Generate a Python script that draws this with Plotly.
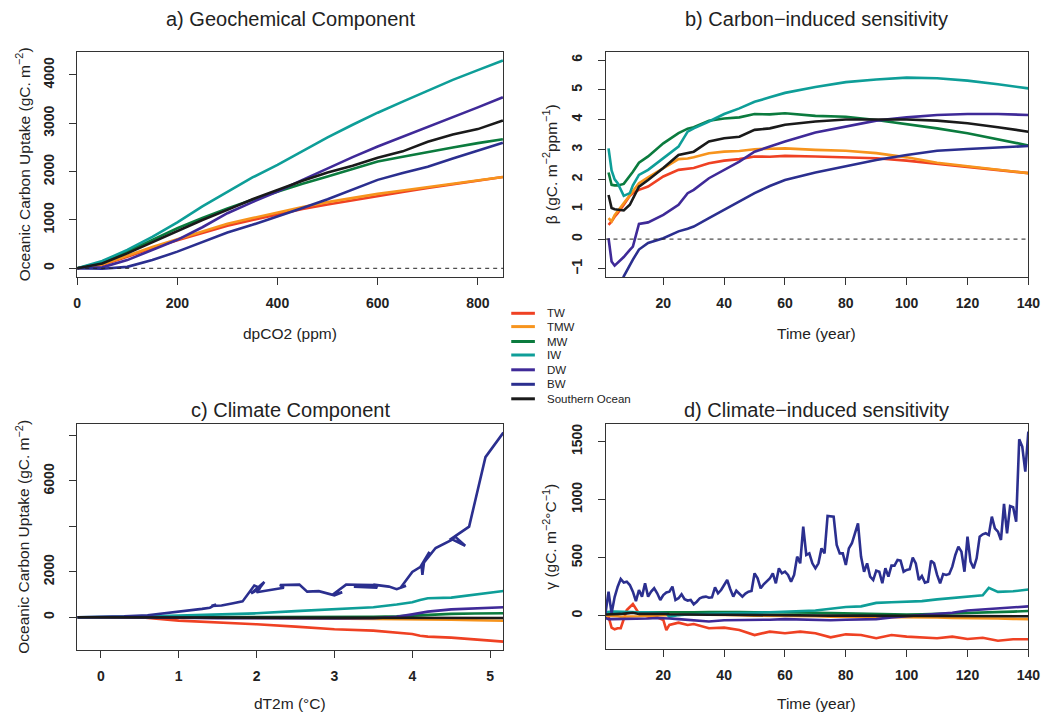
import plotly.graph_objects as go

# ---------------- data ----------------
NAMES = ["TW", "TMW", "MW", "IW", "DW", "BW", "Southern Ocean"]
COLORS = ["#EF4123", "#F7941D", "#0B7B3E", "#0E9E98", "#3F2A98", "#2B2F8F", "#1A1A1A"]

# a) Geochemical component vs dpCO2
A_X = [0, 50, 100, 150, 200, 250, 300, 350, 400, 450, 500, 550, 600, 650, 700, 750, 800, 850]
A_Y = {
    "TW":  [0, 70, 240, 420, 580, 730, 880, 1000, 1120, 1230, 1320, 1410, 1500, 1580, 1660, 1740, 1810, 1890],
    "TMW": [0, 80, 260, 440, 600, 760, 920, 1040, 1160, 1270, 1370, 1460, 1540, 1610, 1680, 1750, 1820, 1890],
    "MW":  [0, 120, 345, 590, 830, 1040, 1240, 1420, 1590, 1750, 1900, 2060, 2210, 2310, 2410, 2500, 2590, 2670],
    "IW":  [0, 150, 380, 650, 950, 1280, 1580, 1880, 2140, 2430, 2710, 2970, 3220, 3450, 3680, 3900, 4100, 4300],
    "DW":  [0, 20, 170, 380, 590, 850, 1140, 1370, 1590, 1830, 2070, 2300, 2520, 2720, 2920, 3130, 3330, 3540],
    "BW":  [0, -10, 30, 170, 345, 540, 740, 900, 1070, 1250, 1430, 1630, 1830, 1970, 2100, 2270, 2430, 2600],
    "Southern Ocean": [0, 100, 310, 540, 780, 1000, 1210, 1430, 1620, 1810, 1980, 2120, 2290, 2420, 2620, 2770, 2880, 3060],
}

# b) Carbon-induced sensitivity vs time
B_X = [2, 3, 4, 5, 7, 9, 10, 12, 15, 20, 25, 28, 30, 35, 40, 45, 50, 55, 60, 70, 80, 90, 100, 110, 120, 130, 140]
B_Y = {
    "TW":  [0.48, 0.59, 0.75, 0.87, 1.15, 1.45, 1.54, 1.65, 1.76, 2.1, 2.32, 2.36, 2.38, 2.54, 2.63, 2.68, 2.77, 2.76, 2.79, 2.77, 2.74, 2.71, 2.63, 2.52, 2.41, 2.32, 2.21],
    "TMW": [0.7, 0.59, 0.8, 0.93, 1.2, 1.45, 1.6, 1.87, 2.07, 2.38, 2.68, 2.7, 2.74, 2.88, 2.93, 2.95, 3.01, 3.03, 3.04, 2.99, 2.96, 2.88, 2.74, 2.56, 2.45, 2.32, 2.21],
    "MW":  [2.23, 1.82, 1.8, 1.8, 1.85, 2.1, 2.26, 2.56, 2.77, 3.21, 3.55, 3.7, 3.75, 3.97, 4.04, 4.08, 4.19, 4.18, 4.22, 4.13, 4.1, 3.99, 3.86, 3.71, 3.55, 3.35, 3.14],
    "IW":  [3.04, 2.3, 2.0, 1.87, 1.45, 1.54, 1.8, 2.15, 2.32, 2.71, 3.1, 3.6, 3.71, 3.94, 4.19, 4.38, 4.6, 4.75, 4.9, 5.1, 5.26, 5.35, 5.41, 5.39, 5.31, 5.19, 5.05],
    "DW":  [0.03, -0.75, -0.89, -0.8, -0.6, -0.36, -0.25, 0.51, 0.56, 0.81, 1.15, 1.54, 1.65, 2.04, 2.32, 2.6, 2.93, 3.1, 3.27, 3.57, 3.77, 3.97, 4.08, 4.16, 4.19, 4.19, 4.16],
    "BW":  [-3.0, -2.6, -2.2, -1.8, -1.25, -0.85, -0.69, -0.35, -0.13, 0.03, 0.26, 0.35, 0.42, 0.7, 0.98, 1.26, 1.54, 1.78, 1.98, 2.23, 2.45, 2.65, 2.82, 2.96, 3.02, 3.07, 3.12],
    "Southern Ocean": [1.48, 1.04, 1.0, 0.98, 0.96, 1.15, 1.35, 1.76, 1.98, 2.38, 2.82, 2.9, 2.93, 3.27, 3.38, 3.43, 3.66, 3.71, 3.83, 3.94, 4.01, 4.01, 4.01, 3.97, 3.88, 3.75, 3.6],
}

# c) Climate component vs dT2m
C_X = [-0.3, 0.0, 0.5, 1.0, 1.5, 2.0, 2.5, 3.0, 3.5, 3.8, 4.0, 4.1, 4.2, 4.5, 4.8, 5.0, 5.17]
C_Y = {
    "TW":  [0, 0, 0, -147, -220, -308, -410, -528, -587, -690, -733, -810, -850, -895, -980, -1027, -1070],
    "TMW": [0, 0, 0, -10, -20, -30, -40, -50, -60, -70, -80, -90, -100, -110, -130, -140, -150],
    "MW":  [0, 0, 0, 0, -10, -10, -10, 0, 20, 40, 70, 100, 120, 150, 170, 180, 180],
    "IW":  [0, 0, 30, 73, 120, 176, 270, 367, 440, 560, 660, 760, 836, 865, 1010, 1100, 1160],
    "DW":  [0, 0, 0, -20, -40, -50, -55, -55, -40, 20, 130, 190, 250, 350, 390, 420, 440],
    "Southern Ocean": [0, 0, 0, -10, -10, -20, -20, -20, -20, -20, -20, -20, -20, -30, -30, -30, -30],
}
# BW follows its own (looping) trajectory in time
C_BW_X = [-0.3, 0.0, 0.3, 0.6, 0.9, 1.1, 1.3, 1.4, 1.48, 1.42, 1.55, 1.7, 1.82, 1.97, 2.05, 1.93, 2.1, 2.0,
          2.2, 2.35, 2.3, 2.5, 2.55, 2.65, 2.8, 3.0, 3.1, 2.98, 3.15, 3.3, 3.5, 3.25, 3.55, 3.5, 3.7, 3.8,
          3.92, 3.85, 4.0, 4.12, 4.13, 4.15, 4.22, 4.1, 4.3, 4.5, 4.55, 4.68, 4.5, 4.73, 4.94, 5.17]
C_BW_Y = [0, 10, 40, 90, 200, 290, 370, 420, 560, 500, 520, 620, 700, 1400, 1280, 1050, 1560, 1100,
          1230, 1300, 1420, 1450, 1440, 1130, 1150, 970, 1100, 1000, 1440, 1430, 1420, 1350, 1300, 1440, 1350, 1240,
          1390, 1300, 2000, 2250, 1870, 2400, 2880, 2200, 3050, 3400, 3550, 3150, 3450, 3990, 7050, 8130]

# d) Climate-induced sensitivity vs time
D_BW_X = list(range(1, 141))
D_BW_Y = [20, 207, 20, 160, 250, 316, 285, 293, 264, 207, 126, 221, 164, 279, 164, 207, 236, 193, 135, 178,
          200, 207, 250, 135, 150, 184, 141, 130, 135, 98, 120, 150, 160, 164, 155, 158, 244, 193, 221, 260,
          307, 230, 164, 215, 190, 164, 190, 207, 213, 365, 322, 236, 270, 293, 320, 365, 279, 408, 365, 379,
          351, 293, 351, 509, 451, 767, 523, 537, 451, 408, 451, 580, 537, 859, 853, 853, 609, 537, 537, 437,
          580, 624, 710, 796, 509, 379, 451, 336, 307, 388, 379, 279, 408, 336, 431, 431, 480, 474, 379, 394,
          400, 500, 451, 307, 342, 285, 293, 474, 451, 351, 279, 359, 351, 359, 422, 523, 595, 552, 379, 681,
          466, 408, 494, 681, 701, 710, 695, 853, 753, 724, 652, 963, 710, 945, 934, 810, 1520, 1457, 1241, 1586]
D_X = [1, 2, 3, 4, 5, 6, 8, 10, 12, 15, 18, 20, 21, 22, 25, 28, 30, 35, 40, 45, 50, 55, 60, 65, 70, 75,
       80, 85, 90, 95, 100, 105, 110, 115, 120, 125, 127, 130, 135, 140]
D_Y = {
    "TW":  [6, -9, -103, -118, -109, -108, 49, 100, 20, -9, -15, -37, -124, -80, -60, -80, -72, -109, -103, -124,
            -167, -138, -152, -138, -152, -187, -161, -167, -195, -167, -181, -187, -195, -181, -201, -190, -200, -216, -204, -204],
    "TMW": [0, 0, -5, -5, -5, -10, -10, -10, -5, 0, 5, 5, 5, 5, 10, 10, 10, 10, 10, 5,
            0, 0, -5, -5, -5, -10, -10, -10, -10, -15, -15, -15, -15, -20, -20, -25, -25, -25, -28, -30],
    "MW":  [30, 30, 30, 30, 30, 30, 28, 28, 28, 25, 25, 25, 25, 25, 28, 30, 30, 32, 35, 32,
            30, 30, 30, 28, 25, 22, 20, 15, 10, 10, 10, 12, 15, 18, 20, 25, 28, 30, 35, 40],
    "IW":  [30, 35, 35, 35, 35, 32, 30, 30, 30, 28, 25, 25, 20, -10, 5, 10, 10, 15, 20, 20,
            25, 30, 35, 35, 45, 60, 75, 80, 110, 115, 120, 125, 140, 150, 165, 175, 240, 205, 210, 225],
    "DW":  [-20, -30, -30, -30, -30, -30, -30, -25, -25, -25, -20, -20, -20, -25, -30, -35, -40, -50, -40, -40,
            -40, -35, -30, -35, -40, -40, -35, -35, -30, -15, -5, 5, 15, 25, 45, 55, 60, 65, 75, 80],
    "Southern Ocean": [10, 10, 10, 10, 10, 15, 20, 25, 15, 15, 18, 20, 15, 12, 10, 10, 10, 8, 8, 6,
                       5, 5, 5, 3, 2, 0, 0, 0, 0, 0, 0, -2, -2, -3, -3, -4, -4, -5, -5, -5],
}

# ---------------- figure ----------------
W, H = 1063, 713
FONT = "Liberation Sans, Arial, Helvetica, sans-serif"
AXC = "#333333"
LW = 2.6

def px(x):
    return x / W

def py(y):
    return 1 - y / H

panels = {
    # name: (xaxis, yaxis, left, right, top, bottom)
    "a": ("x", "y", 74.3, 507.0, 51.7, 277.3),
    "b": ("x2", "y2", 610.7, 1040.0, 52.3, 277.3),
    "c": ("x3", "y3", 74.3, 507.0, 424.0, 650.0),
    "d": ("x4", "y4", 610.7, 1040.0, 424.0, 649.3),
}

fig = go.Figure()
cmap = dict(zip(NAMES, COLORS))

def add(x, y, name, xa, ya):
    fig.add_trace(go.Scatter(x=x, y=y, mode="lines", name=name, showlegend=False,
                             line=dict(color=cmap[name], width=LW), xaxis=xa, yaxis=ya,
                             hoverinfo="skip"))

for n in NAMES:
    add(A_X, A_Y[n], n, "x", "y")
for n in NAMES:
    add(B_X, B_Y[n], n, "x2", "y2")
for n in NAMES:
    if n == "BW":
        add(C_BW_X, C_BW_Y, n, "x3", "y3")
    else:
        add(C_X, C_Y[n], n, "x3", "y3")
for n in NAMES:
    if n == "BW":
        add(D_BW_X, D_BW_Y, n, "x4", "y4")
    else:
        add(D_X, D_Y[n], n, "x4", "y4")

tickfont = dict(family=FONT, size=14, color="#222222", weight="bold")

def axis_common():
    return dict(showline=True, linecolor=AXC, linewidth=1, mirror=True, ticks="outside",
                ticklen=7, tickcolor=AXC, tickwidth=1, showgrid=False, zeroline=False,
                tickfont=tickfont)

layout = dict(width=W, height=H, margin=dict(l=0, r=0, t=0, b=0),
              paper_bgcolor="white", plot_bgcolor="white", showlegend=False)

xranges = {"a": [0, 851], "b": [1, 140], "c": [-0.304, 5.17], "d": [1, 140]}
yranges = {"a": [-186, 4482], "b": [-1.28, 6.26], "c": [-1439, 8508], "d": [-290, 1652]}
xticks = {"a": [0, 200, 400, 600, 800], "b": [20, 40, 60, 80, 100, 120, 140],
          "c": [0, 1, 2, 3, 4, 5], "d": [20, 40, 60, 80, 100, 120, 140]}
yticks = {"a": [0, 1000, 2000, 3000, 4000], "b": [-1, 0, 1, 2, 3, 4, 5, 6],
          "c": [0, 2000, 6000], "d": [0, 500, 1000, 1500]}
# panel c: unlabelled ticks (labels dropped for overlap in the original)
yminor = {"c": [4000, 8000]}

for k, (xa, ya, l, r, t, b) in panels.items():
    xkey = "xaxis" + xa[1:]
    ykey = "yaxis" + ya[1:]
    xd = axis_common()
    xd.update(domain=[px(l), px(r)], range=xranges[k], anchor=ya,
              tickmode="array", tickvals=xticks[k], ticklabelstandoff=6)
    yd = axis_common()
    yd.update(domain=[py(b), py(t)], range=yranges[k], anchor=xa, tickangle=-90,
              tickmode="array", tickvals=yticks[k], ticklabelstandoff=10)
    if k in yminor:
        yd["minor"] = dict(tickmode="array", tickvals=yminor[k], ticks="outside",
                           ticklen=7, tickcolor=AXC, tickwidth=1, showgrid=False)
    layout[xkey] = xd
    layout[ykey] = yd

fig.update_layout(**layout)

# dashed zero lines (a, b)
for xa, ya in [("x", "y"), ("x2", "y2")]:
    fig.add_shape(type="line", xref=xa + " domain", yref=ya, x0=0, x1=1, y0=0, y1=0,
                  line=dict(color="#222222", width=1, dash="4px,4px"))

# titles and axis labels
TFONT = dict(family=FONT, size=20, color="#222222")
LFONT = dict(family=FONT, size=15.5, color="#222222")
ann = []
ann += [
    dict(text="a) Geochemical Component", x=px(290.7), y=py(19), font=TFONT),
    dict(text="b) Carbon−induced sensitivity", x=px(825.3), y=py(19), font=TFONT),
    dict(text="c) Climate Component", x=px(290.7), y=py(410), font=TFONT),
    dict(text="d) Climate−induced sensitivity", x=px(825.3), y=py(410), font=TFONT),
    dict(text="dpCO2 (ppm)", x=px(290.7), y=py(333), font=LFONT),
    dict(text="Time (year)", x=px(825.3), y=py(333), font=LFONT),
    dict(text="dT2m (°C)", x=px(290.7), y=py(703), font=LFONT),
    dict(text="Time (year)", x=px(825.3), y=py(703), font=LFONT),
    dict(text="Oceanic Carbon Uptake (gC. m<sup>−2</sup>)", x=px(19), y=py(164.5), textangle=-90, font=LFONT),
    dict(text="β (gC. m<sup>−2</sup>ppm<sup>−1</sup>)", x=px(554), y=py(164.5), textangle=-90, font=LFONT),
    dict(text="Oceanic Carbon Uptake (gC. m<sup>−2</sup>)", x=px(19), y=py(537), textangle=-90, font=LFONT),
    dict(text="γ (gC. m<sup>−2</sup>°C<sup>−1</sup>)", x=px(554), y=py(537), textangle=-90, font=LFONT),
]
for a in ann:
    a.update(xref="paper", yref="paper", showarrow=False, xanchor="center", yanchor="middle")

# legend (drawn manually to match compact spacing)
LEG_Y = [313.3, 326.6, 341.5, 355.0, 369.8, 384.3, 398.8]
for n, ly in zip(NAMES, LEG_Y):
    fig.add_shape(type="line", xref="paper", yref="paper", x0=px(515), x1=px(539),
                  y0=py(ly), y1=py(ly), line=dict(color=cmap[n], width=3))
    ann.append(dict(text=n, xref="paper", yref="paper", x=px(549), y=py(ly), showarrow=False,
                    xanchor="left", yanchor="middle",
                    font=dict(family=FONT, size=11.5, color="#222222")))

fig.update_layout(annotations=ann)
fig.write_html("out.html", config={"displayModeBar": False},
               post_script="document.body.style.margin='0';document.body.style.overflow='hidden';")
